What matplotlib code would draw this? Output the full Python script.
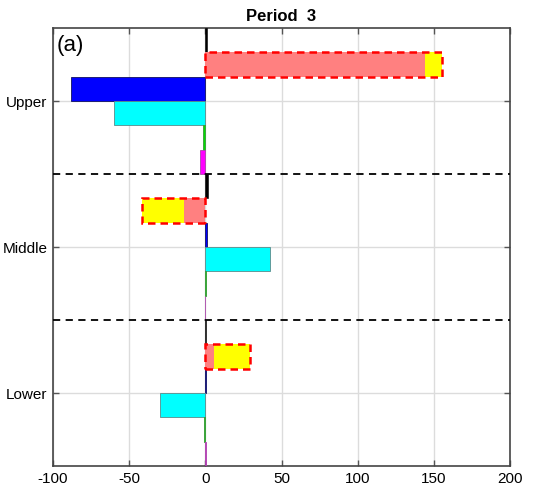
"""Period 3 horizontal grouped bar chart (panel a)."""
import numpy as np
import matplotlib
matplotlib.use("Agg")
import matplotlib.pyplot as plt

plt.rcParams["font.family"] = ["Liberation Sans", "DejaVu Sans"]
plt.rcParams["axes.unicode_minus"] = False

groups = ["Upper", "Middle", "Lower"]
group_pos = np.array([3, 2, 1])

# values per group (Upper, Middle, Lower)
black_vals = [1.2, 1.8, 0.3]
red_vals = [144, -14, 5.5]
yellow_vals = [11, -27.5, 24]
blue_vals = [-88, 0.8, 0.6]
cyan_vals = [-60, 42.5, -30]
green_vals = [-1.5, 0.3, -1.0]
magenta_vals = [-3.5, 0.0, 0.5]

xticks = [-100, -50, 0, 50, 100, 150, 200]

h = 1 / 6
off = np.array([2.5, 1.5, 0.5, -0.5, -1.5, -2.5]) * h

fig = plt.figure(figsize=(5.33, 4.91), dpi=100)
ax = fig.add_axes([0.0994, 0.0509, 0.8576, 0.892])

red = np.array(red_vals)
yel = np.array(yellow_vals)

ax.barh(group_pos + off[0], black_vals, height=h, color="black", edgecolor="black", lw=0.4, zorder=3)
ax.barh(group_pos + off[1], red, height=h, color="#ff8080", lw=0, zorder=3)
ax.barh(group_pos + off[1], yel, left=red, height=h, color="#ffff00", lw=0, zorder=3)
ax.barh(group_pos + off[1], red + yel, height=h, fill=False, edgecolor="#ff0000",
        ls=(0, (3, 2)), lw=1.8, zorder=4)
ax.barh(group_pos + off[2], blue_vals, height=h, color="#0000ff", edgecolor="#101060", lw=0.6, zorder=3)
ax.barh(group_pos + off[3], cyan_vals, height=h, color="#00ffff", edgecolor="#5a8a8a", lw=0.6, zorder=3)
ax.barh(group_pos + off[4], green_vals, height=h, color="#00dd00", edgecolor="#339933", lw=0.6, zorder=3)
ax.barh(group_pos + off[5], magenta_vals, height=h, color="#ff00ff", edgecolor="#aa44aa", lw=0.6, zorder=3)

for yy in [1.5, 2.5]:
    ax.axhline(yy, color="black", ls=(0, (4, 3)), lw=1.3, zorder=5)

ax.set_xlim(-100, 200)
ax.set_ylim(0.5, 3.5)
ax.set_xticks(xticks)
ax.set_yticks(group_pos)
ax.set_yticklabels(groups)
ax.grid(True, color="#dcdcdc", lw=1)
ax.set_axisbelow(True)
ax.tick_params(direction="in", top=True, right=True, length=4, width=1,
               color="#555555", labelsize=11, pad=4)
for sp in ax.spines.values():
    sp.set_color("#444444")
    sp.set_linewidth(1.2)

ax.set_title("Period  3", fontsize=12, fontweight="bold", pad=5)
ax.text(0.008, 0.985, "(a)", transform=ax.transAxes, fontsize=16, va="top", ha="left")

fig.savefig("out.png", dpi=100)
